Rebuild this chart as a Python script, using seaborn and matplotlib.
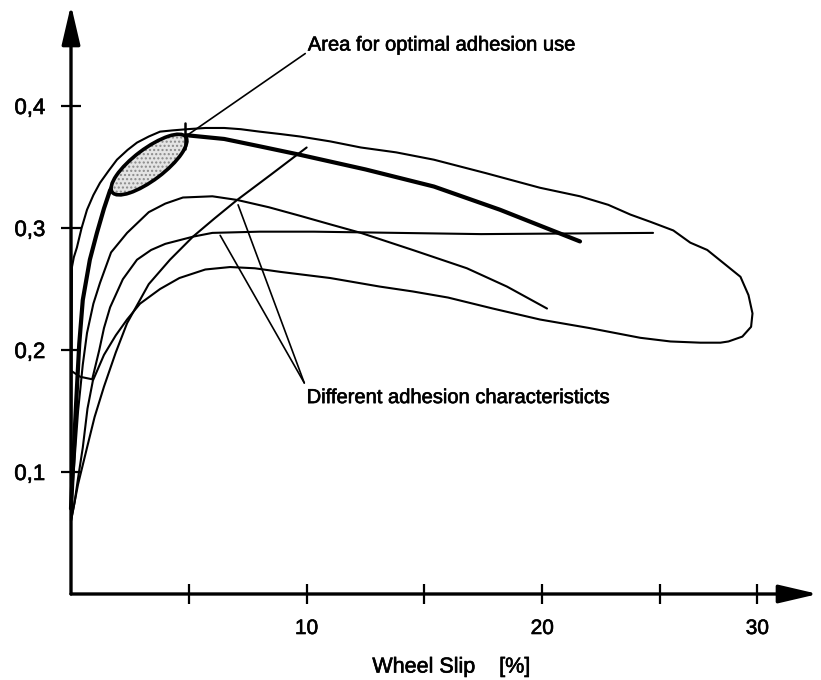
import numpy as np
import pandas as pd
import matplotlib
matplotlib.use("Agg")
import matplotlib.pyplot as plt
import matplotlib.patheffects as pe
import seaborn as sns
from matplotlib.patches import Ellipse
from matplotlib.transforms import Affine2D

# ---------------- data ----------------
# closed loop: upper thin characteristic + lowest characteristic joined at the right
loop_x = [0.0, 0.02, 0.04, 0.12, 0.25, 0.45, 0.68, 0.95, 1.23, 1.6, 1.95, 2.4, 2.8,
          3.3, 3.78, 4.3, 4.93, 5.7, 6.5, 7.2, 8.0, 8.9, 9.72, 11.0, 12.3, 13.8,
          15.4, 17.6, 19.9, 21.6, 22.8, 23.74, 24.6, 25.56, 26.28, 27.0, 27.77,
          28.41, 28.75, 28.92, 28.86, 28.49, 27.9, 27.56, 26.71, 25.44, 24.16, 22.0,
          19.9, 17.9, 16.0, 14.5, 13.1, 11.0, 8.9, 7.8, 6.75, 5.7, 4.6, 3.78, 2.93,
          2.38, 1.9, 1.4, 0.93, 0.7, 0.5, 0.3, 0.15, 0.0]
loop_y = [0.06, 0.15, 0.268, 0.276, 0.284, 0.300, 0.315, 0.327, 0.337, 0.347, 0.356,
          0.364, 0.370, 0.375, 0.379, 0.380, 0.381, 0.382, 0.382, 0.381, 0.379,
          0.377, 0.375, 0.371, 0.366, 0.362, 0.356, 0.345, 0.333, 0.326, 0.319,
          0.311, 0.305, 0.298, 0.288, 0.282, 0.270, 0.260, 0.245, 0.230, 0.219,
          0.211, 0.207, 0.206, 0.206, 0.207, 0.210, 0.218, 0.225, 0.234, 0.243,
          0.248, 0.252, 0.259, 0.264, 0.267, 0.268, 0.266, 0.259, 0.250, 0.238,
          0.225, 0.212, 0.196, 0.175, 0.152, 0.12, 0.095, 0.075, 0.06]

# bold characteristic (optimal)
bold_x = [0.0, 0.1, 0.2, 0.35, 0.5, 0.8, 1.1, 1.4, 1.66, 2.3, 3.3, 4.1, 4.93, 6.5,
          8.0, 9.72, 12.5, 15.4, 18.2, 21.6]
bold_y = [0.07, 0.11, 0.15, 0.205, 0.241, 0.274, 0.296, 0.316, 0.331, 0.35, 0.365,
          0.372, 0.376, 0.373, 0.367, 0.36, 0.348, 0.334, 0.315, 0.289]

# characteristic with peak ~0.325
arc2_x = [0.0, 0.15, 0.3, 0.5, 0.68, 0.95, 1.23, 1.7, 2.38, 3.3, 4.0, 4.75, 6.0, 7.05,
          8.4, 9.72, 11.0, 12.3, 14.5, 16.8, 18.5, 20.2]
arc2_y = [0.07, 0.11, 0.15, 0.188, 0.214, 0.238, 0.255, 0.28, 0.296, 0.313, 0.320,
          0.325, 0.326, 0.323, 0.317, 0.31, 0.303, 0.296, 0.282, 0.267, 0.252, 0.234]

# flat characteristic (~0.297)
flat_x = [0.0, 0.4, 0.9, 1.05, 1.2, 1.4, 1.66, 2.2, 2.8, 3.4, 4.0, 5.2, 6.0, 8.0,
          10.3, 17.4, 24.7]
flat_y = [0.183, 0.178, 0.176, 0.188, 0.2, 0.218, 0.235, 0.258, 0.274, 0.282, 0.287,
          0.293, 0.296, 0.297, 0.297, 0.295, 0.296]

# rising characteristic ending at 10 %
rise_x = [0.0, 0.3, 0.68, 1.0, 1.4, 1.9, 2.38, 3.3, 4.2, 5.18, 6.1, 7.05, 8.5, 10.0]
rise_y = [0.06, 0.09, 0.12, 0.145, 0.17, 0.198, 0.222, 0.254, 0.274, 0.293, 0.308,
          0.323, 0.344, 0.366]

# axis ticks
x_ticks = [5, 10, 15, 20, 25, 29.13]
x_tick_labels = ["", "10", "", "20", "", "30"]
y_ticks = [0.1, 0.2, 0.3, 0.4]
y_tick_labels = ["0,1", "0,2", "0,3", "0,4"]

# annotations
area_label = "Area for optimal adhesion use"
area_text_xy = (10.05, 0.450)
area_line = ([9.94, 4.93], [0.443, 0.376])
diff_label = "Different adhesion characteristicts"
diff_text_xy = (10.0, 0.161)
diff_lines = [([9.9, 6.33], [0.173, 0.294]), ([9.9, 7.09], [0.173, 0.319])]
cross_mark = ([4.85, 4.85], [0.365, 0.386])
opt_center = (3.31, 0.352)

# ---------------- figure ----------------
sns.set_theme(style="white")
plt.rcParams["font.family"] = ["Liberation Sans", "DejaVu Sans"]

W, H = 821, 680
fig = plt.figure(figsize=(W / 100, H / 100), dpi=100)
x0, y0, x1, y1 = 71, 594, 818, 5
ax = fig.add_axes([x0 / W, (H - y0) / H, (x1 - x0) / W, (y0 - y1) / H])
XMAX, YMAX = 31.7, 0.4828
ax.set_xlim(0, XMAX)
ax.set_ylim(0, YMAX)

heavy = [pe.withStroke(linewidth=0.45, foreground="black")]


def draw(xs, ys, lw):
    df = pd.DataFrame({"x": xs, "y": ys})
    sns.lineplot(data=df, x="x", y="y", sort=False, estimator=None,
                 color="black", lw=lw, ax=ax, clip_on=False)


# optimal area ellipse (shape in pixel units, placed in data coordinates)
sx = (x1 - x0) / XMAX
sy = (y0 - y1) / YMAX
tr = Affine2D().scale(1 / sx, 1 / sy).translate(*opt_center) + ax.transData
ax.add_patch(Ellipse((0, 0), 92, 31, angle=37, transform=tr,
                     facecolor="#e4e4e4", edgecolor="#8a8a8a", hatch="....",
                     lw=0, zorder=2.5))
ax.add_patch(Ellipse((0, 0), 92, 31, angle=37, transform=tr,
                     facecolor="none", edgecolor="black", lw=2.6, zorder=3))

draw(loop_x, loop_y, 1.5)
draw(arc2_x, arc2_y, 1.5)
draw(flat_x, flat_y, 1.5)
draw(rise_x, rise_y, 1.5)
draw(bold_x, bold_y, 3.0)

ax.plot(*cross_mark, color="black", lw=1.8, zorder=4)
ax.plot(*area_line, color="black", lw=1.2)
for lx, ly in diff_lines:
    ax.plot(lx, ly, color="black", lw=1.2)

ax.text(area_text_xy[0], area_text_xy[1], area_label, fontsize=14.5,
        ha="left", va="center", color="black", path_effects=heavy)
ax.text(diff_text_xy[0], diff_text_xy[1], diff_label, fontsize=14.5,
        ha="left", va="center", color="black", path_effects=heavy)

# axes with arrows
for s in ax.spines.values():
    s.set_visible(False)
arrow = dict(arrowstyle="-|>,head_length=1.2,head_width=0.28", lw=2.4,
             color="black", shrinkA=0, shrinkB=0, mutation_scale=20)
ax.annotate("", xy=(1, 0), xytext=(0, 0), xycoords="axes fraction",
            textcoords="axes fraction", arrowprops=arrow, annotation_clip=False)
ax.annotate("", xy=(0, 1), xytext=(0, 0), xycoords="axes fraction",
            textcoords="axes fraction", arrowprops=arrow, annotation_clip=False)

ax.set_xticks(x_ticks)
ax.set_xticklabels(x_tick_labels)
ax.set_yticks(y_ticks)
ax.set_yticklabels(y_tick_labels)
ax.tick_params(axis="both", which="major", direction="inout", length=15,
               width=1.6, colors="black", bottom=True, left=True)
ax.tick_params(axis="y", pad=11, labelsize=16)
ax.tick_params(axis="x", pad=10.5, labelsize=15)
for lab in ax.get_xticklabels() + ax.get_yticklabels():
    lab.set_path_effects(heavy)
ax.grid(False)

ax.set_ylabel("")
ax.set_xlabel("Wheel Slip    [%]", fontsize=15.5, color="black")
ax.xaxis.label.set_va("center")
ax.xaxis.label.set_path_effects(heavy)
ax.xaxis.set_label_coords(0.509, -0.124)

fig.savefig("out.png", dpi=100)
